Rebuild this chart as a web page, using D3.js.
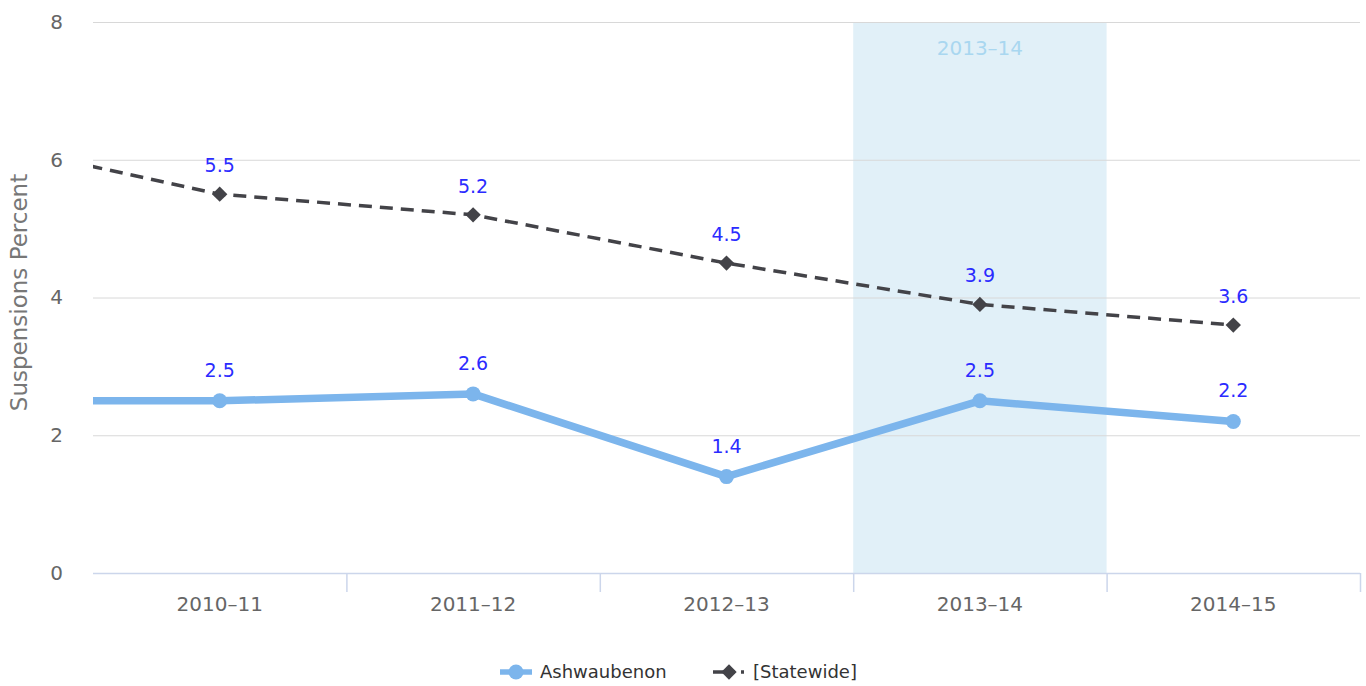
<!DOCTYPE html>
<html>
<head>
<meta charset="utf-8">
<script src="https://cdn.jsdelivr.net/npm/d3@7"></script>
<style>
  html, body { margin: 0; padding: 0; background: #fff; }
  svg { display: block; font-family: "DejaVu Sans", Verdana, sans-serif; }
</style>
</head>
<body>
<svg id="chart" width="1366" height="686"></svg>
<script>
// ---- data ----
const categories = ["2010–11", "2011–12", "2012–13", "2013–14", "2014–15"];
const ashwaubenon = [2.5, 2.6, 1.4, 2.5, 2.2];
const statewide = [5.5, 5.2, 4.5, 3.9, 3.6];
// values of the preceding (off-screen) year, which the lines run in from
const ashwaubenonPrev = 2.5;
const statewidePrev = 6.3;
const yTicks = [0, 2, 4, 6, 8];
const highlightCategory = "2013–14";
const seriesNames = ["Ashwaubenon", "[Statewide]"];

// ---- layout ----
const W = 1366, H = 686;
const pLeft = 93, pRight = 1360, pTop = 22, pBottom = 573;

const svg = d3.select("#chart");
const x = d3.scaleLinear().domain([-0.5, categories.length - 0.5]).range([pLeft, pRight]);
const y = d3.scaleLinear().domain([0, 8]).range([pBottom, pTop]);

// highlight band
const hi = categories.indexOf(highlightCategory);
svg.append("rect")
  .attr("x", x(hi - 0.5)).attr("y", pTop)
  .attr("width", x(hi + 0.5) - x(hi - 0.5)).attr("height", pBottom - pTop)
  .attr("fill", "#e1f0f8");
svg.append("text")
  .attr("x", x(hi)).attr("y", pTop + 33)
  .attr("text-anchor", "middle")
  .attr("font-size", 20).attr("fill", "#a9d7f0")
  .text(highlightCategory);

// grid lines
const yAxis = d3.axisLeft(y).tickValues(yTicks).tickSize(-(pRight - pLeft)).tickPadding(30);
const gy = svg.append("g").attr("transform", `translate(${pLeft},0)`).call(yAxis);
gy.select(".domain").remove();
gy.selectAll(".tick line").attr("stroke", "#d8d8d8").attr("stroke-width", 1)
  .filter(d => d === 0).remove();
gy.selectAll(".tick text").attr("font-size", 20).attr("fill", "#666")
  .attr("font-family", "DejaVu Sans, sans-serif").attr("x", -30);

// x axis
const tickPositions = d3.range(categories.length).map(i => i + 0.5);
const xAxis = d3.axisBottom(x).tickValues(tickPositions).tickSize(19).tickFormat("");
const gx = svg.append("g").attr("transform", `translate(0,${pBottom})`).call(xAxis);
gx.select(".domain").attr("stroke", "#ccd6eb").attr("stroke-width", 1.5)
  .attr("d", `M${pLeft},0.5H${pRight}`);
gx.selectAll(".tick line").attr("stroke", "#ccd6eb").attr("stroke-width", 1.5);
svg.append("g").selectAll("text").data(categories).join("text")
  .attr("x", (d, i) => x(i)).attr("y", pBottom + 38)
  .attr("text-anchor", "middle").attr("font-size", 20).attr("fill", "#666")
  .text(d => d);

// y axis title
svg.append("text")
  .attr("transform", `translate(27,${(pTop + pBottom) / 2 - 5}) rotate(-90)`)
  .attr("text-anchor", "middle").attr("font-size", 23).attr("fill", "#777")
  .text("Suspensions Percent");

// clip
svg.append("clipPath").attr("id", "plotclip")
  .append("rect").attr("x", pLeft).attr("y", 0).attr("width", pRight - pLeft).attr("height", H);

const line = d3.line().x(d => x(d.i)).y(d => y(d.v));
const ashData = [{ i: -1, v: ashwaubenonPrev }].concat(ashwaubenon.map((v, i) => ({ i, v })));
const stData = [{ i: -1, v: statewidePrev }].concat(statewide.map((v, i) => ({ i, v })));

const plot = svg.append("g").attr("clip-path", "url(#plotclip)");
plot.append("path").datum(ashData).attr("d", line)
  .attr("fill", "none").attr("stroke", "#7cb5ec").attr("stroke-width", 7.5)
  .attr("stroke-linejoin", "round").attr("stroke-linecap", "round");
plot.append("path").datum(stData).attr("d", line)
  .attr("fill", "none").attr("stroke", "#434348").attr("stroke-width", 3.5)
  .attr("stroke-dasharray", "13,8");

// markers
svg.append("g").selectAll("circle").data(ashwaubenon).join("circle")
  .attr("cx", (d, i) => x(i)).attr("cy", d => y(d)).attr("r", 7.5)
  .attr("fill", "#7cb5ec");
const diamond = d3.symbol().type(d3.symbolDiamond2).size(150);
svg.append("g").selectAll("path").data(statewide).join("path")
  .attr("transform", (d, i) => `translate(${x(i)},${y(d)})`)
  .attr("d", diamond).attr("fill", "#434348");

// data labels
svg.append("g").selectAll("text").data(ashwaubenon).join("text")
  .attr("x", (d, i) => x(i)).attr("y", d => y(d) - 24)
  .attr("text-anchor", "middle").attr("font-size", 19).attr("fill", "#2b2bff")
  .text(d => d.toFixed(1));
svg.append("g").selectAll("text").data(statewide).join("text")
  .attr("x", (d, i) => x(i)).attr("y", d => y(d) - 22)
  .attr("text-anchor", "middle").attr("font-size", 19).attr("fill", "#2b2bff")
  .text(d => d.toFixed(1));

// legend
const ly = 672;
const lg = svg.append("g");
lg.append("line").attr("x1", 500).attr("x2", 532).attr("y1", ly).attr("y2", ly)
  .attr("stroke", "#7cb5ec").attr("stroke-width", 5.5);
lg.append("circle").attr("cx", 516).attr("cy", ly).attr("r", 7.5).attr("fill", "#7cb5ec");
lg.append("text").attr("x", 540).attr("y", ly + 6).attr("font-size", 18).attr("fill", "#333")
  .text(seriesNames[0]);
lg.append("line").attr("x1", 713).attr("x2", 745).attr("y1", ly).attr("y2", ly)
  .attr("stroke", "#434348").attr("stroke-width", 3.5).attr("stroke-dasharray", "22,6,3,10");
lg.append("path").attr("transform", `translate(729,${ly})`).attr("d", diamond).attr("fill", "#434348");
lg.append("text").attr("x", 753).attr("y", ly + 6).attr("font-size", 18).attr("fill", "#333")
  .text(seriesNames[1]);
</script>
</body>
</html>
